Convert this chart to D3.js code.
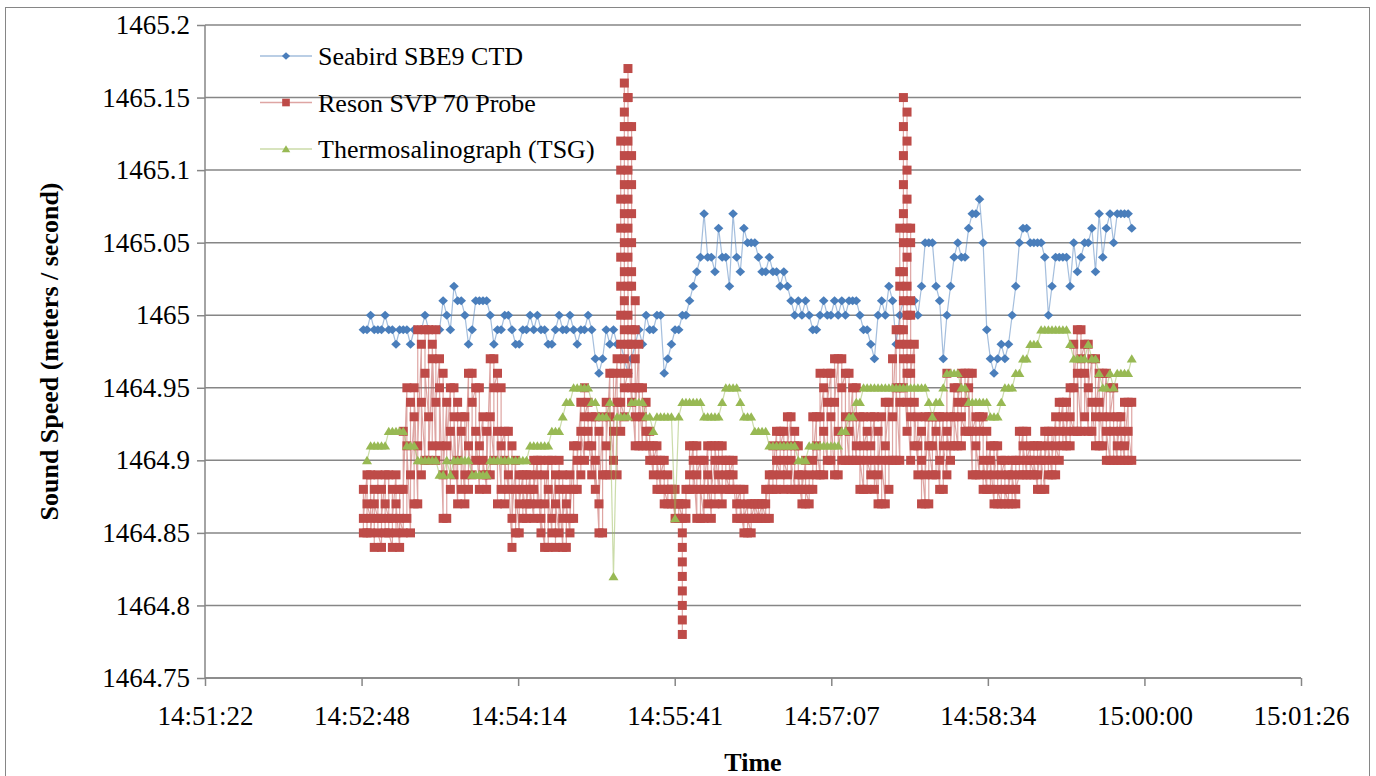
<!DOCTYPE html>
<html>
<head>
<meta charset="utf-8">
<script src="https://cdn.jsdelivr.net/npm/d3@7/dist/d3.min.js"></script>
<style>
  body { margin: 0; background: #fff; }
  text { font-family: "Liberation Serif", "Times New Roman", serif; fill: #000; }
</style>
</head>
<body>
<svg id="chart" width="1376" height="776"></svg>
<script>
// axis ticks (Excel uses day fractions, 0.001 day = 86.4 s)
var xTickDays = [0.619, 0.620, 0.621, 0.622, 0.623, 0.624, 0.625, 0.626];
var xTickLabels = ["14:51:22", "14:52:48", "14:54:14", "14:55:41", "14:57:07", "14:58:34", "15:00:00", "15:01:26"];
var yTicks = [1464.75, 1464.8, 1464.85, 1464.9, 1464.95, 1465, 1465.05, 1465.1, 1465.15, 1465.2];
var yTickLabels = ["1464.75", "1464.8", "1464.85", "1464.9", "1464.95", "1465", "1465.05", "1465.1", "1465.15", "1465.2"];

var seriesNames = ["Seabird SBE9 CTD", "Reson SVP 70 Probe", "Thermosalinograph (TSG)"];
var seriesColors = ["#4a7ebb", "#be4b48", "#98b954"];

// sampling: one record every 2 s
var ctdStart = "14:52:49", resonStart = "14:52:49", tsgStart = "14:52:51";
var sampleStep = 2;

// sound speed in hundredths of m/s above 1464 (99 -> 1464.99)
var ctd = [
  99,99,100,99,99,99,100,99,99,98,
  99,99,99,98,99,99,99,100,99,99,
  99,99,101,100,99,102,101,101,100,98,
  99,101,101,101,101,100,98,99,99,100,
  100,99,98,98,99,99,100,99,100,99,
  99,98,98,99,100,99,99,100,99,98,
  99,99,100,99,97,96,97,99,98,99,
  98,98,97,96,97,98,99,98,100,99,
  99,100,100,96,97,98,99,99,100,100,
  101,102,103,104,107,104,104,103,106,104,
  104,102,107,104,103,106,105,105,105,104,
  103,103,104,103,103,102,103,102,101,100,
  101,100,101,100,99,99,100,101,100,100,
  101,100,101,100,101,101,101,100,99,99,
  98,97,100,101,100,102,101,98,100,101,
  101,101,101,100,102,105,105,105,102,101,
  97,100,102,104,105,104,104,106,107,107,
  108,105,99,97,96,97,98,97,98,100,
  102,105,106,106,105,105,105,105,104,100,
  102,104,104,104,104,102,105,103,104,105,
  105,106,103,107,104,106,107,105,107,107,
  107,107,106
];

// the probe logs several readings per time stamp
var reson = [
  [85,88,86],[89,85,87],[86,89,85],[88,84,87],[86,89,85],[84,88,86],[89,85,87],[86,89,85],[84,88,86],[89,85,87],
  [84,88,86],[85,92,88],[95,86,91],[85,94,89],[93,87,95],[87,99,91],[98,89,94],[90,99,96],[93,99,90],[97,91,98],
  [90,99,94],[97,91,95],[86,96,89],[94,86,91],[95,88,92],[89,95,93],[87,94,90],[93,88,92],[87,93,89],[96,88,91],
  [89,96,94],[95,90,92],[88,95,91],[93,89,90],[88,92,89],[97,89,93],[90,97,95],[96,87,92],[88,95,91],[92,87,90],
  [88,92,89],[84,91,86],[90,85,88],[85,89,87],[89,86,88],[86,89,87],[89,87,88],[86,90,88],[90,87,89],[85,90,86],
  [84,89,87],[90,84,88],[85,90,86],[89,84,87],[85,90,88],[84,89,86],[88,84,87],[85,89,86],[91,86,88],[88,91,90],
  [94,89,92],[90,95,93],[94,91,92],[89,93,91],[88,93,90],[85,92,87],[93,85,89],[89,94,91],[96,89,93],[90,96,92],
  [97,89,94],
  [92,96,100,104,108,112,110,106,102,98,94],
  [93,97,101,105,109,113,116,114,111,107,103,99,95],
  [96,100,104,108,112,115,117,115,113,110,106,102,98],
  [94,98,102,105,109,113,111,107,103,99,95],
  [91,95,99,101,97,93],
  [98,91,95],[91,95,93],[94,91,92],[90,92,91],
  [89,91,90],[91,88,90],[88,90,89],[90,87,88],[87,89,88],[88,87,88],[86,88,87],[87,86,87],
  [86,84,82,80,78,79,81,83,85,87],
  [87,86,88],
  [88,91,89],[91,88,90],[86,91,89],[90,86,88],[86,90,88],[91,87,89],[86,91,88],[90,87,91],[88,91,89],[87,91,90],
  [90,88,89],[88,90,89],[90,88,89],[86,88,87],[88,86,87],[85,88,86],[87,85,86],[85,87,86],[87,86,87],[86,87,86],
  [87,86,87],[86,88,87],[89,86,88],[88,91,89],[92,88,90],[89,92,91],[92,88,90],[89,93,91],[93,88,90],[88,92,91],
  [91,88,89],[87,89,88],[90,87,88],[87,89,88],[88,93,90],[93,89,91],[89,96,93],[95,89,92],[90,96,94],[96,90,93],
  [89,97,94],[97,89,92],[90,97,95],[96,90,93],[90,96,92],[95,90,93],[90,95,91],[93,88,90],[88,93,91],[92,88,90],
  [89,93,91],[93,88,90],[87,92,89],[93,87,90],[87,94,91],[94,88,90],[90,97,93],[99,90,95],
  [90,94,98,102,106,103,99,95],
  [95,99,103,107,111,115,113,109,105,101,97],
  [92,96,100,104,108,112,114,110,106,102,98,94],
  [90,93,97,101,105,106,100,96],
  [98,91,94],[89,93,91],[92,87,90],[87,93,89],[93,87,91],[89,93,91],[93,89,92],[88,93,90],
  [93,88,91],[89,96,92],[90,93,91],[95,91,93],[91,95,94],[96,91,93],[92,96,94],[96,92,95],[89,96,92],[93,89,91],
  [89,93,92],[93,88,90],[88,92,89],[91,88,90],[87,91,89],[91,87,88],[87,90,89],[90,87,88],[87,89,88],[90,87,89],
  [87,90,88],[89,92,90],[92,89,91],[89,92,90],[91,89,90],[89,91,90],[88,91,89],[91,88,90],[88,92,90],[92,89,91],
  [89,92,90],[93,89,91],[90,94,92],[94,91,93],[91,94,92],[95,91,93],[92,98,95],[99,92,96],[92,99,97],[98,93,96],
  [92,98,95],[97,92,94],[91,97,93],[96,91,94],[91,96,93],[96,90,92],[90,95,93],[95,90,92],[90,93,91],[93,90,92],
  [90,94,91],[94,90,92],[90,94]
];

var tsg = [
  90,91,91,91,91,91,92,92,92,92,
  92,91,91,91,90,90,90,90,90,90,
  89,89,90,89,90,90,90,90,90,89,
  89,89,89,89,90,90,90,90,90,90,
  90,90,90,90,90,91,91,91,91,91,
  91,92,92,92,93,94,94,95,95,95,
  95,95,94,94,93,93,93,94,82,93,
  93,93,93,94,94,94,94,93,93,92,
  93,93,93,93,93,86,93,94,94,94,
  94,94,94,93,93,93,93,93,94,95,
  95,95,95,94,93,93,93,92,92,92,
  92,91,91,91,91,91,91,91,91,90,
  90,90,91,91,91,91,91,91,91,91,
  91,92,92,93,93,94,94,95,95,95,
  95,95,95,95,95,95,95,95,95,95,
  95,95,95,95,95,94,93,94,94,95,
  96,96,96,96,95,95,94,94,94,94,
  94,94,93,93,93,94,95,95,95,96,
  96,97,97,98,98,98,99,99,99,99,
  99,99,99,99,98,97,97,97,97,98,
  97,97,96,95,95,96,95,96,96,96,
  96,97
];

function secs(hms) {
  var p = hms.split(":").map(Number);
  return p[0] * 3600 + p[1] * 60 + p[2];
}
function speed(v) { return 1464 + v / 100; }

var ctdPts = ctd.map(function(v, i) { return { t: secs(ctdStart) + i * sampleStep, v: speed(v) }; });
var resonPts = [];
reson.forEach(function(g, i) {
  g.forEach(function(v) { resonPts.push({ t: secs(resonStart) + i * sampleStep, v: speed(v) }); });
});
var tsgPts = tsg.map(function(v, i) { return { t: secs(tsgStart) + i * sampleStep, v: speed(v) }; });
var allSeries = [ctdPts, resonPts, tsgPts];

var svg = d3.select("#chart");
var plotLeft = 205, plotRight = 1301, plotTop = 25, plotBottom = 678;

var x = d3.scaleLinear()
  .domain([xTickDays[0] * 86400, xTickDays[xTickDays.length - 1] * 86400])
  .range([plotLeft, plotRight]);
var y = d3.scaleLinear()
  .domain([yTicks[0], yTicks[yTicks.length - 1]])
  .range([plotBottom, plotTop]);

// chart border
svg.append("rect")
  .attr("x", 5.5).attr("y", 7.5).attr("width", 1364).attr("height", 790)
  .attr("fill", "none").attr("stroke", "#868686").attr("stroke-width", 1);

// gridlines
svg.append("g").selectAll("line").data(yTicks).enter().append("line")
  .attr("x1", plotLeft).attr("x2", plotRight)
  .attr("y1", function(d) { return y(d); }).attr("y2", function(d) { return y(d); })
  .attr("stroke", "#868686").attr("stroke-width", 1.5);

// y axis
var yAxis = d3.axisLeft(y).tickValues(yTicks)
  .tickFormat(function(d, i) { return yTickLabels[i]; })
  .tickSize(8).tickPadding(7);
var gy = svg.append("g").attr("transform", "translate(" + plotLeft + ",0)").call(yAxis);
gy.select(".domain").attr("stroke", "#868686").attr("stroke-width", 1.5).attr("d", "M0," + plotTop + "V" + plotBottom);
gy.selectAll(".tick line").attr("stroke", "#868686").attr("stroke-width", 1.5);
gy.selectAll(".tick text").attr("font-size", 27).attr("font-family", "Liberation Serif");

// x axis
var xAxis = d3.axisBottom(x).tickValues(xTickDays.map(function(d) { return d * 86400; }))
  .tickFormat(function(d, i) { return xTickLabels[i]; })
  .tickSize(8).tickPadding(20);
var gx = svg.append("g").attr("transform", "translate(0," + plotBottom + ")").call(xAxis);
gx.select(".domain").attr("stroke", "#868686").attr("stroke-width", 1.5).attr("d", "M" + plotLeft + ",0H" + plotRight);
gx.selectAll(".tick line").attr("stroke", "#868686").attr("stroke-width", 1.5);
gx.selectAll(".tick text").attr("font-size", 27).attr("font-family", "Liberation Serif");

// axis titles
svg.append("text")
  .attr("transform", "translate(58," + ((plotTop + plotBottom) / 2) + ") rotate(-90)")
  .attr("text-anchor", "middle").attr("font-weight", "bold").attr("font-size", 26)
  .text("Sound Speed (meters / second)");
svg.append("text")
  .attr("x", (plotLeft + plotRight) / 2).attr("y", 771)
  .attr("text-anchor", "middle").attr("font-weight", "bold").attr("font-size", 26)
  .text("Time");

// marker shapes
var markers = [
  "M0,-4.5L4.8,0L0,4.5L-4.8,0Z",
  "M-4.5,-4.5H4.5V4.5H-4.5Z",
  "M0,-4.5L5,3.8H-5Z"
];

var line = d3.line()
  .x(function(d) { return x(d.t); })
  .y(function(d) { return y(d.v); });

var plot = svg.append("g");
allSeries.forEach(function(pts, s) {
  var g = plot.append("g");
  g.append("path").datum(pts)
    .attr("d", line)
    .attr("fill", "none")
    .attr("stroke", seriesColors[s])
    .attr("stroke-opacity", 0.5)
    .attr("stroke-width", 1.2);
  g.selectAll("path.m").data(pts).enter().append("path")
    .attr("class", "m")
    .attr("d", markers[s])
    .attr("transform", function(d) { return "translate(" + x(d.t) + "," + y(d.v) + ")"; })
    .attr("fill", seriesColors[s]);
});

// legend
var legend = svg.append("g");
seriesNames.forEach(function(name, s) {
  var ly = 56 + s * 46.5;
  legend.append("line")
    .attr("x1", 260).attr("x2", 312).attr("y1", ly).attr("y2", ly)
    .attr("stroke", seriesColors[s]).attr("stroke-opacity", 0.5).attr("stroke-width", 1.5);
  legend.append("path")
    .attr("d", markers[s])
    .attr("transform", "translate(286," + ly + ") scale(0.85)")
    .attr("fill", seriesColors[s]);
  legend.append("text")
    .attr("x", 318).attr("y", ly + 9)
    .attr("font-size", 26)
    .text(name);
});
</script>
</body>
</html>
